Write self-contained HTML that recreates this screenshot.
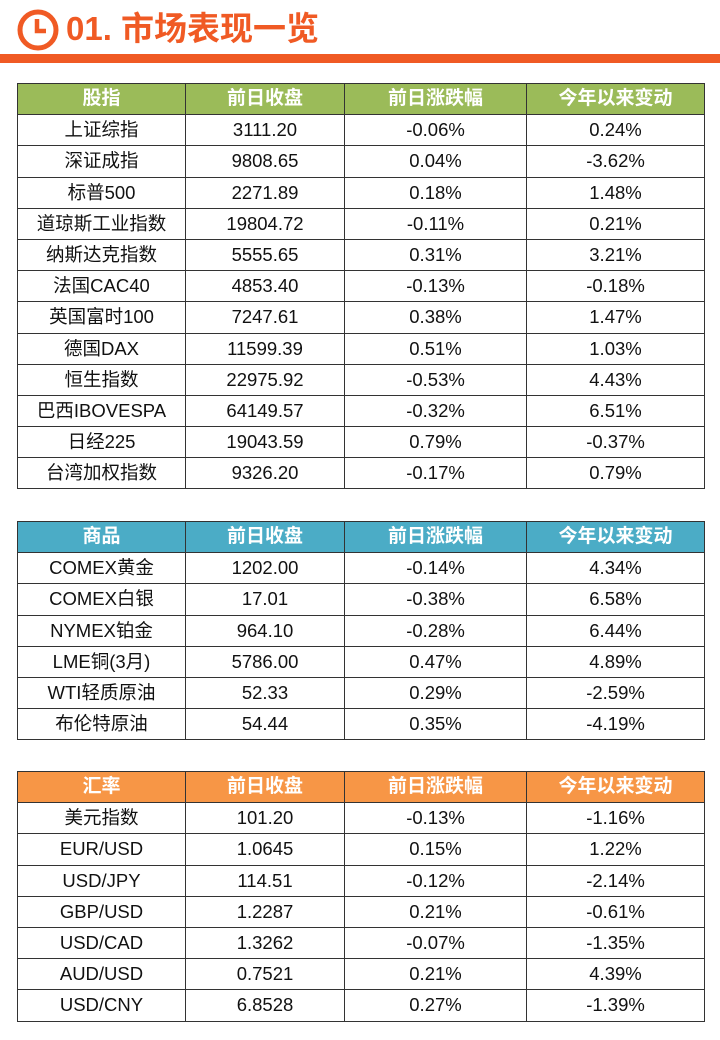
<!DOCTYPE html>
<html><head><meta charset="utf-8"><style>
body{margin:0;width:720px;height:1040px;background:#fff;position:relative;font-family:"Liberation Sans","Noto Sans CJK SC",sans-serif;overflow:hidden}
.title{position:absolute;left:66px;top:9px;font-size:33px;font-weight:bold;color:#F05A24;line-height:40px}
.bar{position:absolute;left:0;top:54px;width:720px;height:9px;background:#F05A24}
table{position:absolute;left:17px;width:687px;border-collapse:collapse;table-layout:fixed}
td,th{border:1px solid #333;height:30.2px;padding:0;text-align:center;font-size:18.5px;color:#111;font-weight:normal;line-height:20px}
th{color:#fff;font-weight:bold;font-size:19px}
.g th{background:#9BBB59}.b th{background:#4BACC6}.o th{background:#F79646}
</style></head><body>
<svg style="position:absolute;left:16px;top:9px" width="44" height="44"><circle cx="22" cy="21" r="18" fill="none" stroke="#F05A24" stroke-width="5"/><path d="M21 10 V22 H30" fill="none" stroke="#F05A24" stroke-width="4.5"/></svg>
<div class="title">01. 市场表现一览</div>
<div class="bar"></div>
<table class="g" style="top:83px">
<colgroup><col style="width:168px"><col style="width:159px"><col style="width:182px"><col style="width:178px"></colgroup>
<tr><th>股指</th><th>前日收盘</th><th>前日涨跌幅</th><th>今年以来变动</th></tr>
<tr><td>上证综指</td><td>3111.20</td><td>-0.06%</td><td>0.24%</td></tr>
<tr><td>深证成指</td><td>9808.65</td><td>0.04%</td><td>-3.62%</td></tr>
<tr><td>标普500</td><td>2271.89</td><td>0.18%</td><td>1.48%</td></tr>
<tr><td>道琼斯工业指数</td><td>19804.72</td><td>-0.11%</td><td>0.21%</td></tr>
<tr><td>纳斯达克指数</td><td>5555.65</td><td>0.31%</td><td>3.21%</td></tr>
<tr><td>法国CAC40</td><td>4853.40</td><td>-0.13%</td><td>-0.18%</td></tr>
<tr><td>英国富时100</td><td>7247.61</td><td>0.38%</td><td>1.47%</td></tr>
<tr><td>德国DAX</td><td>11599.39</td><td>0.51%</td><td>1.03%</td></tr>
<tr><td>恒生指数</td><td>22975.92</td><td>-0.53%</td><td>4.43%</td></tr>
<tr><td>巴西IBOVESPA</td><td>64149.57</td><td>-0.32%</td><td>6.51%</td></tr>
<tr><td>日经225</td><td>19043.59</td><td>0.79%</td><td>-0.37%</td></tr>
<tr><td>台湾加权指数</td><td>9326.20</td><td>-0.17%</td><td>0.79%</td></tr>
</table>
<table class="b" style="top:521px">
<colgroup><col style="width:168px"><col style="width:159px"><col style="width:182px"><col style="width:178px"></colgroup>
<tr><th>商品</th><th>前日收盘</th><th>前日涨跌幅</th><th>今年以来变动</th></tr>
<tr><td>COMEX黄金</td><td>1202.00</td><td>-0.14%</td><td>4.34%</td></tr>
<tr><td>COMEX白银</td><td>17.01</td><td>-0.38%</td><td>6.58%</td></tr>
<tr><td>NYMEX铂金</td><td>964.10</td><td>-0.28%</td><td>6.44%</td></tr>
<tr><td>LME铜(3月)</td><td>5786.00</td><td>0.47%</td><td>4.89%</td></tr>
<tr><td>WTI轻质原油</td><td>52.33</td><td>0.29%</td><td>-2.59%</td></tr>
<tr><td>布伦特原油</td><td>54.44</td><td>0.35%</td><td>-4.19%</td></tr>
</table>
<table class="o" style="top:771px">
<colgroup><col style="width:168px"><col style="width:159px"><col style="width:182px"><col style="width:178px"></colgroup>
<tr><th>汇率</th><th>前日收盘</th><th>前日涨跌幅</th><th>今年以来变动</th></tr>
<tr><td>美元指数</td><td>101.20</td><td>-0.13%</td><td>-1.16%</td></tr>
<tr><td>EUR/USD</td><td>1.0645</td><td>0.15%</td><td>1.22%</td></tr>
<tr><td>USD/JPY</td><td>114.51</td><td>-0.12%</td><td>-2.14%</td></tr>
<tr><td>GBP/USD</td><td>1.2287</td><td>0.21%</td><td>-0.61%</td></tr>
<tr><td>USD/CAD</td><td>1.3262</td><td>-0.07%</td><td>-1.35%</td></tr>
<tr><td>AUD/USD</td><td>0.7521</td><td>0.21%</td><td>4.39%</td></tr>
<tr><td>USD/CNY</td><td>6.8528</td><td>0.27%</td><td>-1.39%</td></tr>
</table>
</body></html>
